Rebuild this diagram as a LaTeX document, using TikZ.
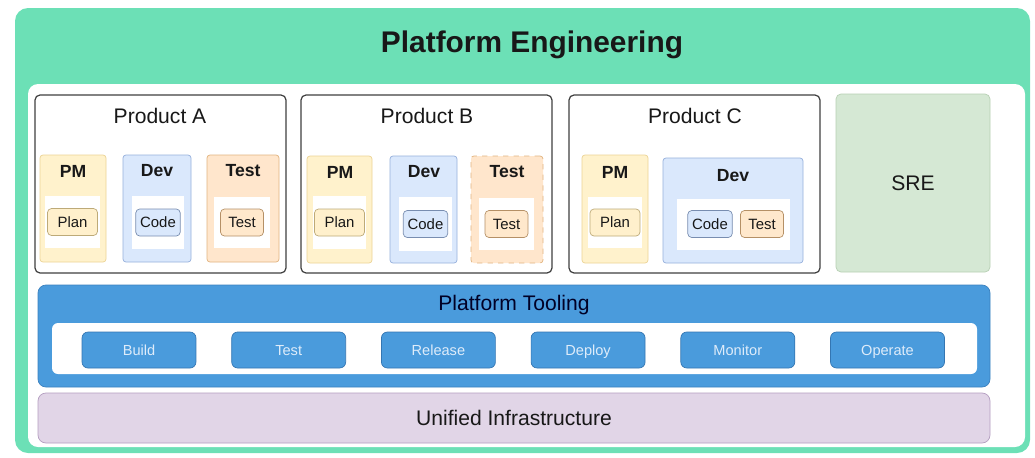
\documentclass[tikz,border=0pt]{standalone}
\usepackage{fontspec}
\setmainfont{Liberation Sans}
\usetikzlibrary{fit}
\definecolor{peGreen}{RGB}{108,224,182}
\definecolor{ptBlue}{RGB}{74,155,220}
\definecolor{ptBlueDark}{RGB}{52,118,178}
\definecolor{btnText}{RGB}{222,236,250}
\definecolor{infraFill}{RGB}{225,213,231}
\definecolor{infraLine}{RGB}{180,158,192}
\definecolor{sreFill}{RGB}{213,232,212}
\definecolor{sreLine}{RGB}{184,208,180}
\definecolor{pmFill}{RGB}{255,242,204}
\definecolor{pmLine}{RGB}{236,212,150}
\definecolor{devFill}{RGB}{218,232,252}
\definecolor{devLine}{RGB}{150,176,220}
\definecolor{testFill}{RGB}{255,230,204}
\definecolor{testLine}{RGB}{226,180,128}
\definecolor{txt}{RGB}{24,24,24}

\begin{document}
\begin{tikzpicture}[x=0.02cm, y=-0.02cm, line join=round, text=txt]
  \tikzset{frame/.style={fill=peGreen, rounded corners=2.6mm, inner sep=0pt},
    area/.style={fill=white, rounded corners=2mm, inner sep=0pt},
    product/.style={draw=black!75, line width=0.7pt, fill=white, rounded corners=1mm, inner sep=0pt},
    pm/.style={draw=pmLine, fill=pmFill, rounded corners=0.6mm, inner sep=0pt},
    dev/.style={draw=devLine, fill=devFill, rounded corners=0.6mm, inner sep=0pt},
    tst/.style={draw=testLine, fill=testFill, rounded corners=0.6mm, inner sep=0pt},
    holder/.style={fill=white, inner sep=0pt},
    task/.style={rounded corners=0.8mm, font=\fontsize{8.5}{10}\selectfont, inner xsep=2.5pt,
      inner ysep=0pt, text height=1.6ex, text depth=0.45ex, minimum height=0.54cm, minimum width=0.86cm},
    pmtask/.style={task, draw=pmLine!80!black, fill=pmFill!80!testFill, minimum width=1cm},
    devtask/.style={task, draw=devLine!80!black, fill=devFill},
    tsttask/.style={task, draw=testLine!80!black, fill=testFill!85!pmFill},
    prodtitle/.style={font=\fontsize{12}{14}\selectfont},
    roletitle/.style={font=\bfseries\fontsize{10}{12}\selectfont},
    button/.style={draw=ptBlueDark, fill=ptBlue, rounded corners=1.2mm, text=btnText,
      font=\fontsize{8.3}{10}\selectfont, inner ysep=0pt, text height=1.6ex, text depth=0.45ex,
      minimum width=2.28cm, minimum height=0.72cm}}
  \useasboundingbox (0,0) rectangle (1035,457);
  % kader
  \node[frame, fit={(15,8) (1030,453)}] (pe) {};
  \node[font=\bfseries\fontsize{17}{20}\selectfont] (peTitle) at (532,45) {Platform Engineering};
  \node[area, fit={(28,84) (1025,447)}] (peArea) {};
  % product A
  \node[product, fit={(35,95) (286,273)}] (prodA) {};
  \node[prodtitle] (prodAt) at (160,116) {Product A};
  \node[pm, fit={(40,155) (106,262)}] (pmA) {};
  \node[roletitle] (pmAt) at (73,171) {PM};
  \node[holder, fit={(45,196) (100,248)}] (pmAh) {};
  \node[pmtask] (planA) at (pmAh) {Plan};
  \node[dev, fit={(123,155) (191,262)}] (devA) {};
  \node[roletitle] (devAt) at (157,171) {Dev};
  \node[holder, fit={(132,196) (184,249)}] (devAh) {};
  \node[devtask] (codeA) at (devAh) {Code};
  \node[tst, fit={(207,155) (279,262)}] (tstA) {};
  \node[roletitle] (tstAt) at (243,171) {Test};
  \node[holder, fit={(214,197) (270,248)}] (tstAh) {};
  \node[tsttask] (testA) at (tstAh) {Test};
  % product B
  \node[product, fit={(301,95) (552,273)}] (prodB) {};
  \node[prodtitle] (prodBt) at (427,116) {Product B};
  \node[pm, fit={(307,156) (372,263)}] (pmB) {};
  \node[roletitle] (pmBt) at (340,172) {PM};
  \node[holder, fit={(313,196) (366,249)}] (pmBh) {};
  \node[pmtask] (planB) at (pmBh) {Plan};
  \node[dev, fit={(390,156) (457,263)}] (devB) {};
  \node[roletitle] (devBt) at (424,172) {Dev};
  \node[holder, fit={(399,197) (452,251)}] (devBh) {};
  \node[devtask] (codeB) at (devBh) {Code};
  \node[tst, dashed, fit={(471,156) (543,263)}] (tstB) {};
  \node[roletitle] (tstBt) at (507,172) {Test};
  \node[holder, fit={(479,198) (534,250)}] (tstBh) {};
  \node[tsttask] (testB) at (tstBh) {Test};
  % product C
  \node[product, fit={(569,95) (820,273)}] (prodC) {};
  \node[prodtitle] (prodCt) at (695,116) {Product C};
  \node[pm, fit={(582,155) (648,263)}] (pmC) {};
  \node[roletitle] (pmCt) at (615,172) {PM};
  \node[holder, fit={(588,197) (642,248)}] (pmCh) {};
  \node[pmtask] (planC) at (pmCh) {Plan};
  \node[dev, fit={(663,158) (803,263)}] (devC) {};
  \node[roletitle] (devCt) at (733,176) {Dev};
  \node[holder, fit={(677,199) (790,250)}] (devCh) {};
  \node[devtask] (codeC) at (710,224) {Code};
  \node[tsttask] (testC) at (762,224) {Test};
  % SRE
  \node[fill=sreFill, draw=sreLine, rounded corners=1mm, inner sep=0pt, fit={(836,94) (990,272)}] (sre) {};
  \node[prodtitle] (sreT) at (913,183) {SRE};
  % platform tooling
  \node[fill=ptBlue, draw=ptBlueDark!70!ptBlue, rounded corners=1.6mm, inner sep=0pt,
    fit={(38,285) (990,387)}] (tooling) {};
  \node[prodtitle, text=black!85!blue] (toolingT) at (514,305) {Platform Tooling};
  \node[area, rounded corners=1.2mm, fit={(52,323) (977,374)}] (toolRow) {};
  \foreach \name [count=\i from 0] in {Build,Test,Release,Deploy,Monitor,Operate}
    \node[button] (btn\i) at (139+149.7*\i,350) {\name};
  % infrastructuur
  \node[fill=infraFill, draw=infraLine, rounded corners=1.6mm, inner sep=0pt, fit={(38,393) (990,443)}] (infra) {};
  \node[prodtitle] (infraT) at (514,418) {Unified Infrastructure};
\end{tikzpicture}
\end{document}
